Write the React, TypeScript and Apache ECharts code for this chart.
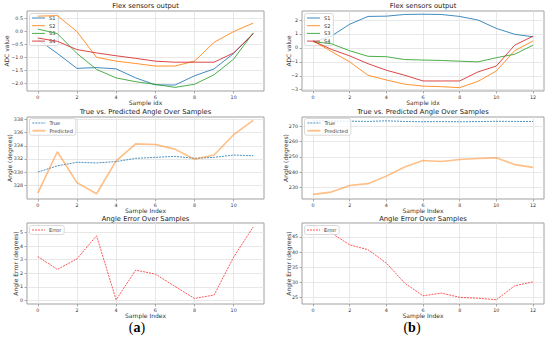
import React, { useEffect, useRef } from "react";
import * as echarts from "echarts";

// ---------- data ----------
const X_A = [0, 1, 2, 3, 4, 5, 6, 7, 8, 9, 10, 11];
const X_B = [0, 1, 2, 3, 4, 5, 6, 7, 8, 9, 10, 11, 12];

const SENSOR_NAMES = ["S1", "S2", "S3", "S4"];
const A_S1 = [-0.3, -0.85, -1.43, -1.4, -1.45, -1.8, -2.07, -2.08, -1.72, -1.45, -0.85, -0.08];
const A_S2 = [0.6, 0.62, 0.0, -1.0, -1.15, -1.24, -1.34, -1.34, -1.15, -0.42, 0.0, 0.33];
const A_S3 = [0.1, -0.08, -0.85, -1.47, -1.8, -1.95, -2.05, -2.17, -2.05, -1.68, -1.07, -0.05];
const A_S4 = [-0.25, -0.38, -0.7, -0.83, -0.94, -1.04, -1.15, -1.19, -1.19, -1.19, -0.83, -0.08];

const B_S1 = [0.4, 0.85, 1.7, 2.26, 2.28, 2.4, 2.42, 2.4, 2.26, 2.0, 1.4, 0.98, 0.8];
const B_S2 = [0.5, -0.25, -1.0, -1.96, -2.3, -2.6, -2.74, -2.78, -2.85, -2.4, -1.65, -0.2, 0.5];
const B_S3 = [0.45, 0.3, -0.2, -0.6, -0.63, -0.83, -0.87, -0.9, -0.95, -1.0, -0.7, -0.45, 0.2];
const B_S4 = [0.5, -0.1, -0.57, -1.13, -1.6, -1.96, -2.37, -2.37, -2.37, -1.72, -1.3, 0.2, 0.84];

const A_TRUE = [330.0, 330.95, 331.5, 331.4, 331.6, 332.1, 332.25, 332.4, 332.1, 332.25, 332.6, 332.5];
const A_PRED = [326.8, 333.1, 328.4, 326.7, 331.7, 334.3, 334.2, 333.5, 331.95, 332.6, 335.7, 337.9];
const B_TRUE = [273.4, 273.3, 273.2, 273.0, 273.4, 273.0, 272.8, 272.9, 272.8, 272.9, 273.1, 273.0, 273.0];
const B_PRED = [225.5, 227.0, 231.3, 232.5, 237.4, 243.3, 247.6, 246.9, 248.2, 248.9, 249.3, 244.9, 243.1];

const A_ERR = [3.23, 2.28, 3.06, 4.75, 0.05, 2.23, 1.94, 1.03, 0.15, 0.4, 3.19, 5.4];
const B_ERR = [48.4, 46.3, 42.4, 40.8, 36.4, 29.8, 25.6, 26.5, 25.1, 24.8, 24.3, 28.9, 30.2];

// tick labels
const X_TICKS_A = [0, 2, 4, 6, 8, 10];
const X_TICKS_B = [0, 2, 4, 6, 8, 10, 12];
const Y_TICKS_A_TOP = [-2.0, -1.5, -1.0, -0.5, 0.0, 0.5];
const Y_TICKS_B_TOP = [-3, -2, -1, 0, 1, 2];
const Y_TICKS_A_MID = [328, 330, 332, 334, 336, 338];
const Y_TICKS_B_MID = [230, 240, 250, 260, 270];
const Y_TICKS_A_BOT = [0, 1, 2, 3, 4, 5];
const Y_TICKS_B_BOT = [25, 30, 35, 40, 45];

const TITLES = ["Flex sensors output", "True vs. Predicted Angle Over Samples", "Angle Error Over Samples"];
const X_NAMES = ["Sample idx", "Sample Index", "Sample Index"];
const Y_NAMES = ["ADC value", "Angle (degrees)", "Angle Error (degrees)"];

// ---------- styling ----------
const FONT = "DejaVu Sans";
const COLORS = ["#1f77b4", "#ff7f0e", "#2ca02c", "#d62728"];
const COL_X = [27, 302];
const COL_W = [237, 242];
const ROW_T = [11, 117, 223];
const ROW_H = [80, 82, 81];
const TITLE_T = [2.2, 108, 215.5];

const X_EXT = [
  [-0.55, 11.55],
  [-0.6, 12.6],
];
const Y_EXT = [
  [[-2.31, 0.8], [-3.09, 2.65]],
  [[325.9, 338.4], [222.5, 275.9]],
  [[-0.26, 5.69], [22.9, 49.6]],
];
const Y_TICKS = [
  [Y_TICKS_A_TOP, Y_TICKS_B_TOP],
  [Y_TICKS_A_MID, Y_TICKS_B_MID],
  [Y_TICKS_A_BOT, Y_TICKS_B_BOT],
];
const Y_NAMEGAP = [
  [17.5, 11],
  [14.5, 14],
  [9, 10.5],
];

const minus = (s: string) => s.replace("-", "\u2212");
const pairs = (xs: number[], ys: number[]) => xs.map((x, i) => [x, ys[i]]);

export default function App() {
  const ref = useRef<HTMLDivElement>(null);
  useEffect(() => {
    if (!ref.current) return;
    document.body.style.margin = "0";
    const chart = echarts.init(ref.current, null, { renderer: "svg" });

    const grids: any[] = [];
    const xAxes: any[] = [];
    const yAxes: any[] = [];
    const titles: any[] = [];
    for (let r = 0; r < 3; r++) {
      for (let c = 0; c < 2; c++) {
        const idx = r * 2 + c;
        grids.push({
          left: COL_X[c],
          top: ROW_T[r],
          width: COL_W[c],
          height: ROW_H[r],
          show: true,
          borderColor: "#a0a0a0",
          borderWidth: 1,
          backgroundColor: "transparent",
          containLabel: false,
          outerBoundsMode: "none",
        });
        const xt = c === 0 ? X_TICKS_A : X_TICKS_B;
        xAxes.push({
          type: "value",
          gridIndex: idx,
          min: X_EXT[c][0],
          max: X_EXT[c][1],
          name: X_NAMES[r],
          nameLocation: "middle",
          nameGap: 8,
          nameMoveOverlap: false,
          nameTextStyle: { fontFamily: FONT, fontSize: 6, color: "#333" },
          axisLine: { show: false, onZero: false },
          axisTick: { show: true, length: 2.5, lineStyle: { color: "#777", width: 0.6 }, customValues: xt },
          axisLabel: {
            fontFamily: FONT,
            fontSize: 4.8,
            color: "#333",
            margin: 4,
            customValues: xt,
            formatter: (v: number) => String(v),
          },
          splitLine: { show: true, lineStyle: { color: "#e2e2e2", width: 0.8 } },
        });
        const yt = Y_TICKS[r][c];
        yAxes.push({
          type: "value",
          gridIndex: idx,
          min: Y_EXT[r][c][0],
          max: Y_EXT[r][c][1],
          name: Y_NAMES[r],
          nameLocation: "middle",
          nameGap: Y_NAMEGAP[r][c],
          nameRotate: 90,
          nameMoveOverlap: false,
          nameTextStyle: { fontFamily: FONT, fontSize: 6, color: "#333" },
          axisLine: { show: false, onZero: false },
          axisTick: { show: true, length: 2.5, lineStyle: { color: "#777", width: 0.6 }, customValues: yt },
          axisLabel: {
            fontFamily: FONT,
            fontSize: 4.8,
            color: "#333",
            margin: 4,
            customValues: yt,
            formatter: (v: number) => minus(r === 0 && c === 0 ? v.toFixed(1) : String(Math.round(v))),
          },
          splitLine: { show: true, lineStyle: { color: "#e2e2e2", width: 0.8 } },
        });
      }
      for (let c = 0; c < 2; c++) {
        titles.push({
          text: TITLES[r],
          left: COL_X[c] + COL_W[c] / 2,
          top: TITLE_T[r],
          textAlign: "center",
          padding: 0,
          textStyle: { fontFamily: FONT, fontSize: 6.8, fontWeight: "normal", color: "#222" },
        });
      }
    }

    const series: any[] = [];
    const legends: any[] = [];
    const legendBase = {
      orient: "vertical",
      itemWidth: 13,
      itemHeight: 5,
      itemGap: 2.7,
      padding: [2, 3, 2, 2],
      backgroundColor: "rgba(255,255,255,0.8)",
      borderColor: "#d0d0d0",
      borderWidth: 0.8,
      borderRadius: 2,
      selectedMode: false,
      itemStyle: { opacity: 0, borderWidth: 0 },
      lineStyle: { width: 1 },
      textStyle: { fontFamily: FONT, fontSize: 5, color: "#333", padding: [0, 0, 0, -1] },
    };
    const sensorSets = [
      [A_S1, A_S2, A_S3, A_S4],
      [B_S1, B_S2, B_S3, B_S4],
    ];
    const xs = [X_A, X_B];
    for (let c = 0; c < 2; c++) {
      // top row
      sensorSets[c].forEach((vals, i) => {
        series.push({
          type: "line",
          name: SENSOR_NAMES[i],
          xAxisIndex: c,
          yAxisIndex: c,
          data: pairs(xs[c], vals),
          symbol: "none",
          lineStyle: { color: COLORS[i], width: 1, opacity: 0.85 },
          itemStyle: { color: COLORS[i] },
          z: 3 + i,
        });
      });
      legends.push({
        ...legendBase,
        left: COL_X[c] + 2.5,
        top: ROW_T[0] + 2.5,
        data: SENSOR_NAMES.map((n) => ({ name: n, lineStyle: { width: 1 } })),
      });
      // middle row
      const tr = c === 0 ? A_TRUE : B_TRUE;
      const pr = c === 0 ? A_PRED : B_PRED;
      series.push({
        type: "line",
        name: "True",
        xAxisIndex: 2 + c,
        yAxisIndex: 2 + c,
        data: pairs(xs[c], tr),
        symbol: "none",
        lineStyle: { color: COLORS[0], width: 1, type: [2, 1], opacity: 0.8 },
        itemStyle: { color: COLORS[0] },
      });
      series.push({
        type: "line",
        name: "Predicted",
        xAxisIndex: 2 + c,
        yAxisIndex: 2 + c,
        data: pairs(xs[c], pr),
        symbol: "none",
        lineStyle: { color: COLORS[1], width: 1.6, opacity: 0.5 },
        itemStyle: { color: COLORS[1] },
      });
      legends.push({
        ...legendBase,
        left: COL_X[c] + 2.5,
        top: ROW_T[1] + 1.5,
        data: [
          { name: "True", lineStyle: { width: 1, type: [2, 1] } },
          { name: "Predicted", lineStyle: { width: 1.8 } },
        ],
      });
      // bottom row
      series.push({
        type: "line",
        name: "Error",
        xAxisIndex: 4 + c,
        yAxisIndex: 4 + c,
        data: pairs(xs[c], c === 0 ? A_ERR : B_ERR),
        symbol: "none",
        lineStyle: { color: "#ff2020", width: 1, type: [2, 1], opacity: 0.75 },
        itemStyle: { color: "#ff2020" },
      });
      legends.push({
        ...legendBase,
        left: COL_X[c] + 2.5,
        top: ROW_T[2] + 2.5,
        data: [{ name: "Error", lineStyle: { width: 1, type: [2, 1] } }],
      });
    }

    chart.setOption({
      animation: false,
      backgroundColor: "#ffffff",
      title: titles,
      grid: grids,
      xAxis: xAxes,
      yAxis: yAxes,
      legend: legends,
      series,
      graphic: [
        {
          type: "text",
          x: 137,
          y: 327,
          style: {
            text: "({b|a})",
            font: "14px 'Liberation Serif'",
            fill: "#000",
            align: "center",
            verticalAlign: "middle",
            rich: { b: { fontFamily: "Liberation Serif", fontSize: 14, fontWeight: "bold", fill: "#000" } },
          },
        },
        {
          type: "text",
          x: 412,
          y: 327,
          style: {
            text: "({b|b})",
            font: "14px 'Liberation Serif'",
            fill: "#000",
            align: "center",
            verticalAlign: "middle",
            rich: { b: { fontFamily: "Liberation Serif", fontSize: 14, fontWeight: "bold", fill: "#000" } },
          },
        },
      ],
    });
    return () => chart.dispose();
  }, []);
  return <div ref={ref} style={{ position: "absolute", left: 0, top: 0, width: 550, height: 350 }} />;
}
